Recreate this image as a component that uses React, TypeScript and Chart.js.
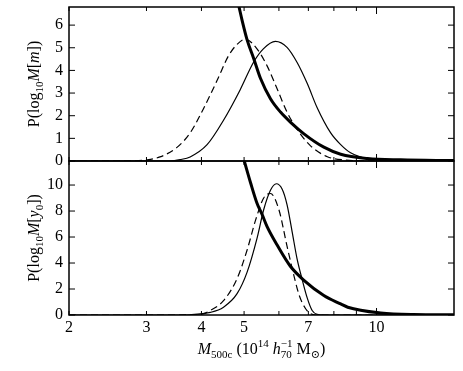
import React, { useEffect, useRef } from 'react';
import { Chart, registerables } from 'chart.js';

Chart.register(...registerables);

const FONT = '"Liberation Serif", "DejaVu Serif", serif';

// shared x axis (log scale)
const X_MIN = 2;
const X_MAX = 15;
const X_TICKS = [2, 3, 4, 5, 6, 7, 8, 9, 10];
const X_LABELS = [2, 3, 4, 5, 7, 10];
const X_MAJOR = [10];

// y axes
const TOP_Y_MAX = 6.8;
const TOP_Y_TICKS = [0, 1, 2, 3, 4, 5, 6];
const BOT_Y_MAX = 11.85;
const BOT_Y_TICKS = [0, 2, 4, 6, 8, 10];

// top panel: P(log10 M[m])
const topSolidM = [2, 3.0, 3.4, 3.58, 3.77, 4.12, 4.49, 4.9, 5.25, 5.53, 5.89, 6.26, 6.6, 6.96, 7.33, 7.86, 8.29, 8.73, 9.54, 10.77, 12.6, 15];
const topSolidP = [0, 0, 0.0, 0.06, 0.18, 0.72, 1.8, 3.15, 4.35, 4.95, 5.28, 5.02, 4.35, 3.42, 2.35, 1.25, 0.72, 0.36, 0.1, 0.03, 0.01, 0];
const topDashM = [2, 2.8, 3.01, 3.22, 3.52, 3.77, 4.04, 4.34, 4.61, 4.82, 5.03, 5.35, 5.64, 5.94, 6.26, 6.6, 7.08, 7.73, 8.42, 9.7, 15];
const topDashP = [0, 0.01, 0.05, 0.18, 0.6, 1.24, 2.3, 3.55, 4.65, 5.15, 5.38, 4.95, 4.2, 3.2, 2.16, 1.4, 0.67, 0.19, 0.05, 0.01, 0];
const topThickM = [4.75, 4.87, 4.95, 5.08, 5.26, 5.45, 5.74, 6.05, 6.37, 6.84, 7.59, 8.29, 9.54, 11.35, 15];
const topThickP = [7.7, 6.8, 6.2, 5.35, 4.52, 3.64, 2.75, 2.16, 1.72, 1.2, 0.61, 0.3, 0.11, 0.05, 0.02];

// bottom panel: P(log10 M[y0])
const botSolidM = [2, 3.5, 3.77, 4.19, 4.49, 4.82, 5.08, 5.35, 5.54, 5.74, 5.92, 6.1, 6.26, 6.43, 6.6, 6.78, 6.96, 7.14, 7.33, 7.6, 15];
const botSolidP = [0, 0, 0.02, 0.2, 0.6, 1.64, 3.3, 5.9, 8.1, 9.6, 10.1, 9.7, 8.5, 6.4, 4.3, 2.7, 1.3, 0.35, 0.05, 0, 0];
const botDashM = [2, 3.5, 3.98, 4.19, 4.49, 4.82, 5.08, 5.31, 5.54, 5.74, 6.0, 6.26, 6.43, 6.66, 6.9, 7.14, 7.4, 15];
const botDashP = [0, 0, 0.05, 0.35, 1.1, 2.8, 5.0, 7.3, 9.0, 9.35, 8.1, 5.3, 3.6, 1.6, 0.48, 0.05, 0, 0];
const botThickM = [4.9, 4.99, 5.17, 5.35, 5.5, 5.64, 5.94, 6.37, 6.84, 7.59, 8.29, 8.6, 10.22, 12.15, 15];
const botThickP = [12.9, 12, 10.2, 8.6, 7.7, 6.8, 5.4, 3.75, 2.67, 1.5, 0.85, 0.6, 0.15, 0.03, 0.01];

type Seg = { t: string; size: number; italic?: boolean; dy?: number; noAdv?: boolean };

const TOP_TITLE: Seg[] = [
  { t: 'P(log', size: 16 },
  { t: '10', size: 11, dy: 4 },
  { t: 'M', size: 16, italic: true },
  { t: '[', size: 16 },
  { t: 'm', size: 16, italic: true },
  { t: '])', size: 16 },
];
const BOT_TITLE: Seg[] = [
  { t: 'P(log', size: 16 },
  { t: '10', size: 11, dy: 4 },
  { t: 'M', size: 16, italic: true },
  { t: '[', size: 16 },
  { t: 'y', size: 16, italic: true },
  { t: '0', size: 11, dy: 4 },
  { t: '])', size: 16 },
];
const X_TITLE: Seg[] = [
  { t: 'M', size: 16, italic: true },
  { t: '500c', size: 11, dy: 4 },
  { t: ' (10', size: 16 },
  { t: '14', size: 11, dy: -7 },
  { t: ' ', size: 16 },
  { t: 'h', size: 16, italic: true },
  { t: '−1', size: 11, dy: -7, noAdv: true },
  { t: '70', size: 11, dy: 4 },
  { t: ' M', size: 16 },
  { t: '⊙', size: 11, dy: 4 },
  { t: ')', size: 16 },
];

function fontOf(s: Seg) {
  return `${s.italic ? 'italic ' : ''}${s.size}px ${FONT}`;
}

function drawRich(ctx: CanvasRenderingContext2D, segs: Seg[], cx: number, cy: number, rotate: boolean) {
  ctx.save();
  ctx.translate(cx, cy);
  if (rotate) ctx.rotate(-Math.PI / 2);
  const widths = segs.map((s) => {
    ctx.font = fontOf(s);
    return ctx.measureText(s.t).width;
  });
  let total = 0;
  let held = 0;
  segs.forEach((s, i) => {
    if (s.noAdv) held = Math.max(held, widths[i]);
    else {
      total += Math.max(held, widths[i]);
      held = 0;
    }
  });
  let x = -total / 2;
  held = 0;
  ctx.fillStyle = '#000';
  ctx.textBaseline = 'alphabetic';
  ctx.textAlign = 'left';
  segs.forEach((s, i) => {
    ctx.font = fontOf(s);
    ctx.fillText(s.t, x, 5.5 + (s.dy || 0));
    if (s.noAdv) held = Math.max(held, widths[i]);
    else {
      x += Math.max(held, widths[i]);
      held = 0;
    }
  });
  ctx.restore();
}

function makeFrame(yTitle: Seg[], xTitle: Seg[] | null) {
  return {
    id: 'frame',
    afterDatasetsDraw(chart: any) {
      const { ctx, chartArea: a, scales } = chart;
      ctx.save();
      ctx.strokeStyle = '#000';
      ctx.lineWidth = 1;
      const line = (x1: number, y1: number, x2: number, y2: number) => {
        ctx.beginPath();
        ctx.moveTo(x1, y1);
        ctx.lineTo(x2, y2);
        ctx.stroke();
      };
      const xs = scales.x;
      for (const v of X_TICKS) {
        const px = xs.getPixelForValue(v);
        const len = X_MAJOR.includes(v) ? 7 : 4;
        line(px, a.bottom, px, a.bottom - len);
        line(px, a.top, px, a.top + len);
      }
      const ys = scales.y;
      for (const t of ys.ticks) {
        const py = ys.getPixelForValue(t.value);
        line(a.left, py, a.left + 6, py);
        line(a.right, py, a.right - 6, py);
      }
      ctx.lineWidth = 1.5;
      ctx.strokeRect(a.left, a.top, a.right - a.left, a.bottom - a.top);
      ctx.restore();
      drawRich(ctx, yTitle, 33, (a.top + a.bottom) / 2, true);
      if (xTitle) drawRich(ctx, xTitle, (a.left + a.right) / 2, 348.5, false);
    },
  };
}

function pts(m: number[], p: number[]) {
  return m.map((x, i) => ({ x, y: p[i] }));
}

function datasets(sm: number[], sp: number[], dm: number[], dp: number[], tm: number[], tp: number[]) {
  const base = { borderColor: '#000', pointRadius: 0, cubicInterpolationMode: 'monotone' as const, fill: false };
  return [
    { ...base, data: pts(sm, sp), borderWidth: 1.2 },
    { ...base, data: pts(dm, dp), borderWidth: 1.2, borderDash: [7, 4] },
    { ...base, data: pts(tm, tp), borderWidth: 3 },
  ];
}

function yScale(max: number, ticks: number[]) {
  return {
    min: 0,
    max,
    afterBuildTicks: (s: any) => {
      s.ticks = ticks.map((v) => ({ value: v }));
    },
    afterFit: (s: any) => {
      s.width = 69;
      s.paddingTop = 0;
      s.paddingBottom = 0;
    },
    grid: { display: false, drawTicks: false },
    border: { display: false },
    ticks: { color: '#000', font: { family: FONT, size: 16 }, padding: 6 },
  };
}

export default function App() {
  const topRef = useRef<HTMLCanvasElement>(null);
  const botRef = useRef<HTMLCanvasElement>(null);

  useEffect(() => {
    const top = new Chart(topRef.current!, {
      type: 'line',
      data: { datasets: datasets(topSolidM, topSolidP, topDashM, topDashP, topThickM, topThickP) as any },
      options: {
        animation: false,
        responsive: false,
        devicePixelRatio: 1,
        layout: { padding: { left: 0, right: 9, top: 7, bottom: 210 } },
        plugins: { legend: { display: false }, tooltip: { enabled: false } },
        scales: {
          x: { type: 'logarithmic', min: X_MIN, max: X_MAX, display: false },
          y: yScale(TOP_Y_MAX, TOP_Y_TICKS) as any,
        },
      },
      plugins: [makeFrame(TOP_TITLE, null)],
    });
    const bot = new Chart(botRef.current!, {
      type: 'line',
      data: { datasets: datasets(botSolidM, botSolidP, botDashM, botDashP, botThickM, botThickP) as any },
      options: {
        animation: false,
        responsive: false,
        devicePixelRatio: 1,
        layout: { padding: { left: 0, right: 9, top: 161, bottom: 0 } },
        plugins: { legend: { display: false }, tooltip: { enabled: false } },
        scales: {
          x: {
            type: 'logarithmic',
            min: X_MIN,
            max: X_MAX,
            afterBuildTicks: (s: any) => {
              s.ticks = X_TICKS.map((v) => ({ value: v }));
            },
            afterFit: (s: any) => {
              s.height = 56;
              s.paddingLeft = 0;
              s.paddingRight = 0;
            },
            grid: { display: false, drawTicks: false },
            border: { display: false },
            ticks: {
              color: '#000',
              font: { family: FONT, size: 16 },
              padding: 3,
              autoSkip: false,
              maxRotation: 0,
              callback: (v: any) => (X_LABELS.includes(Number(v)) ? String(v) : ''),
            },
          } as any,
          y: yScale(BOT_Y_MAX, BOT_Y_TICKS) as any,
        },
      },
      plugins: [makeFrame(BOT_TITLE, X_TITLE)],
    });
    return () => {
      top.destroy();
      bot.destroy();
    };
  }, []);

  const cs: React.CSSProperties = { position: 'absolute', left: 0, top: 0, width: 463, height: 371 };
  return (
    <div style={{ position: 'absolute', left: 0, top: 0, width: 463, height: 371, background: '#fff' }}>
      <canvas ref={topRef} width={463} height={371} style={cs} />
      <canvas ref={botRef} width={463} height={371} style={cs} />
    </div>
  );
}
